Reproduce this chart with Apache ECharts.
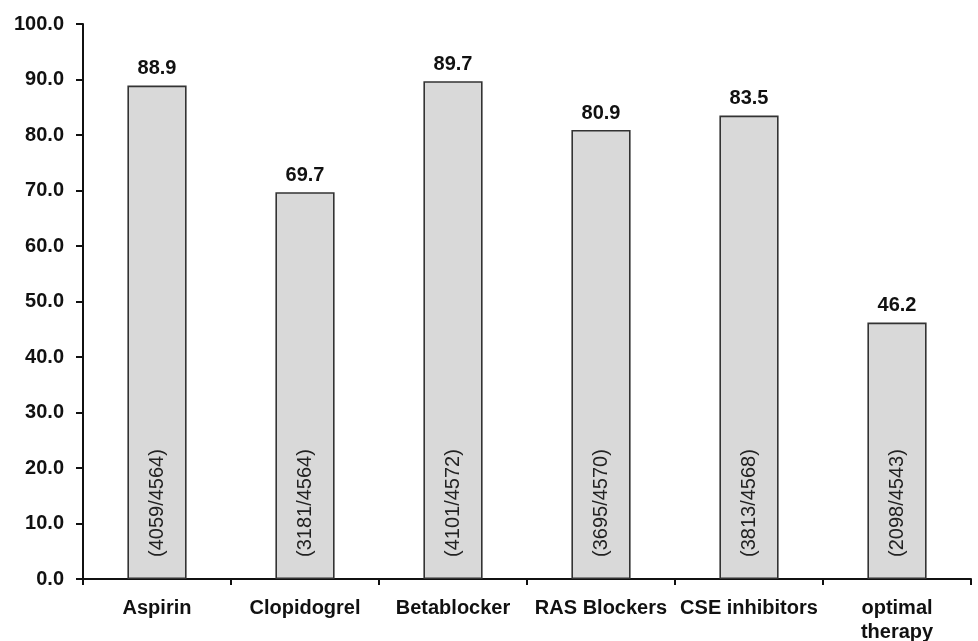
<!DOCTYPE html>
<html><head><meta charset="utf-8">
<script src="https://cdn.jsdelivr.net/npm/echarts@6/dist/echarts.min.js"></script>
<style>html,body{margin:0;padding:0;background:#fff}#c{width:978px;height:641px}</style>
</head><body><div id="c"></div>
<script>
const categories = ["Aspirin", "Clopidogrel", "Betablocker", "RAS Blockers", "CSE inhibitors", "optimal\ntherapy"];
const percentages = [88.9, 69.7, 89.7, 80.9, 83.5, 46.2];
const counts = ["(4059/4564)", "(3181/4564)", "(4101/4572)", "(3695/4570)", "(3813/4568)", "(2098/4543)"];
const yMin = 0, yMax = 100, yStep = 10;

const font = '"Liberation Sans", Arial, sans-serif';
const chart = echarts.init(document.getElementById('c'), null, {renderer: 'canvas'});
chart.setOption({
  animation: false,
  backgroundColor: '#fff',
  grid: {left: 83, right: 7, top: 24, bottom: 62, containLabel: false, outerBoundsMode: 'none'},
  xAxis: {
    type: 'category', data: categories,
    axisLine: {lineStyle: {color: '#111', width: 2}},
    axisTick: {show: true, length: 6, lineStyle: {color: '#111', width: 2}, alignWithLabel: false},
    axisLabel: {color: '#111', fontFamily: font, fontWeight: 'bold', fontSize: 20, lineHeight: 24, margin: 17, interval: 0}
  },
  yAxis: {
    type: 'value', min: yMin, max: yMax, interval: yStep,
    splitLine: {show: false},
    axisLine: {show: true, lineStyle: {color: '#111', width: 2}},
    axisTick: {show: true, length: 7, lineStyle: {color: '#111', width: 2}},
    axisLabel: {color: '#111', fontFamily: font, fontWeight: 'bold', fontSize: 20, margin: 19,
      formatter: v => v.toFixed(1)}
  },
  series: [
    {
      type: 'bar', data: percentages, barWidth: '40%',
      itemStyle: {color: '#d9d9d9', borderColor: '#333', borderWidth: 1.6},
      label: {show: true, position: 'top', distance: 7, color: '#111', fontFamily: font, fontWeight: 'bold', fontSize: 20,
        formatter: p => p.value.toFixed(1)}
    },
    {
      type: 'bar', data: percentages, barWidth: '40%', barGap: '-100%',
      itemStyle: {color: 'rgba(0,0,0,0)', borderWidth: 0},
      silent: true,
      label: {show: true, position: 'insideBottom', rotate: 90, align: 'left', verticalAlign: 'middle', distance: 22,
        color: '#222', fontFamily: font, fontSize: 20,
        formatter: p => counts[p.dataIndex]}
    }
  ]
});
</script></body></html>
